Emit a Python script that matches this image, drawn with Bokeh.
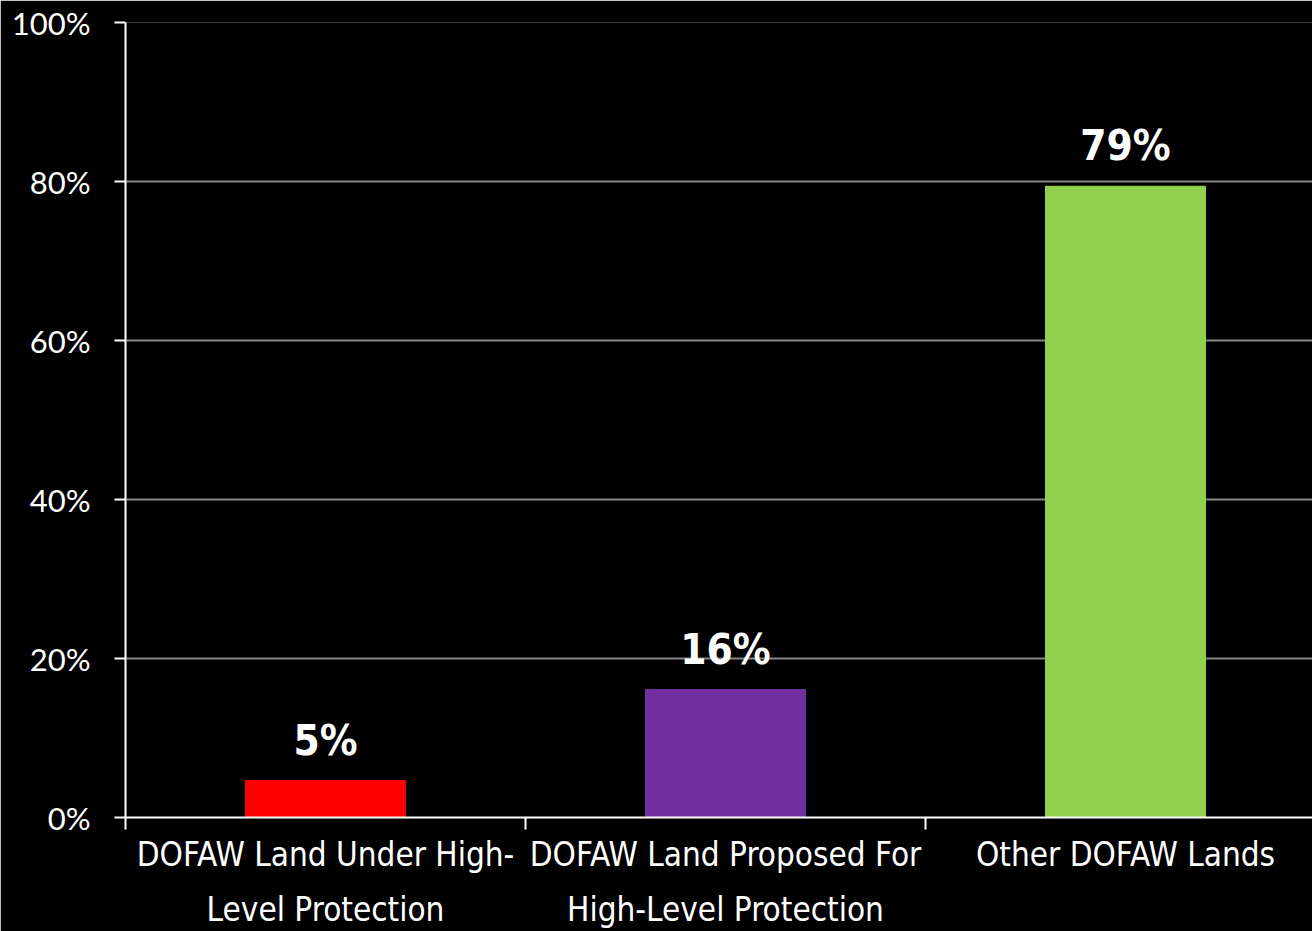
from bokeh.plotting import figure
from bokeh.models import Range1d, FixedTicker, ColumnDataSource
from bokeh.core.properties import value
from bokeh.embed import file_html
from bokeh.resources import INLINE

categories = ["DOFAW Land Under High-\nLevel Protection",
              "DOFAW Land Proposed For\nHigh-Level Protection",
              "Other DOFAW Lands"]
values = [4.65, 16.1, 79.4]
value_labels = ["5%", "16%", "79%"]
colors = ["#FF0000", "#7030A0", "#92D050"]
y_ticks = [0, 20, 40, 60, 80, 100]
y_tick_labels = ["0%", "20%", "40%", "60%", "80%", "100%"]

NARROW = "'DejaVu Sans Condensed', 'Liberation Sans Narrow', sans-serif"

W, H = 1312, 931
left, top = 125, 22
frame_w = W - left
frame_h = 795
slot = 400.0

centers = [i + 0.5 for i in range(len(categories))]
src = ColumnDataSource(dict(x=centers, top=values, color=colors, label=value_labels))

p = figure(width=W, height=H, output_backend="svg", toolbar_location=None,
           x_range=Range1d(0, frame_w / slot), y_range=Range1d(0, 100),
           min_border_left=left, min_border_top=top, min_border_right=0,
           min_border_bottom=H - top - frame_h)
p.background_fill_color = "black"
p.border_fill_color = "black"
p.outline_line_color = None

p.vbar(x="x", top="top", width=0.4, bottom=0, color="color", source=src)
p.text(x="x", y="top", text="label", source=src, text_align="center",
       text_baseline="bottom", y_offset=-16, text_color="white",
       text_font=value(NARROW), text_font_style="bold", text_font_size="42px")

# y axis
ya = p.yaxis[0]
ya.ticker = FixedTicker(ticks=y_ticks, minor_ticks=[])
ya.major_label_overrides = {t: l for t, l in zip(y_ticks, y_tick_labels)}
ya.axis_line_color = "white"
ya.axis_line_width = 2
ya.major_tick_line_color = "white"
ya.major_tick_line_width = 2
ya.major_tick_out = 11
ya.major_tick_in = 0
ya.major_label_standoff = 24
ya.major_label_text_color = "white"
ya.major_label_text_font = "Lato"
ya.major_label_text_font_size = "31px"

# x axis
xa = p.xaxis[0]
xa.ticker = FixedTicker(ticks=centers, minor_ticks=[i for i in range(len(categories) + 1)])
xa.major_label_overrides = {c: l for c, l in zip(centers, categories)}
xa.axis_line_color = "white"
xa.axis_line_width = 2
xa.major_tick_out = 0
xa.major_tick_in = 0
xa.major_tick_line_color = None
xa.minor_tick_line_color = "white"
xa.minor_tick_line_width = 2
xa.minor_tick_out = 12
xa.minor_tick_in = 0
xa.major_label_standoff = 5
xa.major_label_text_color = "white"
xa.major_label_text_font = NARROW
xa.major_label_text_font_size = "33px"
xa.major_label_text_line_height = 1.42

p.xgrid.grid_line_color = None
p.ygrid.ticker = FixedTicker(ticks=y_ticks)
p.ygrid.grid_line_color = "#868686"
p.ygrid.grid_line_width = 2

open("out.html", "w").write(file_html(p, INLINE))
